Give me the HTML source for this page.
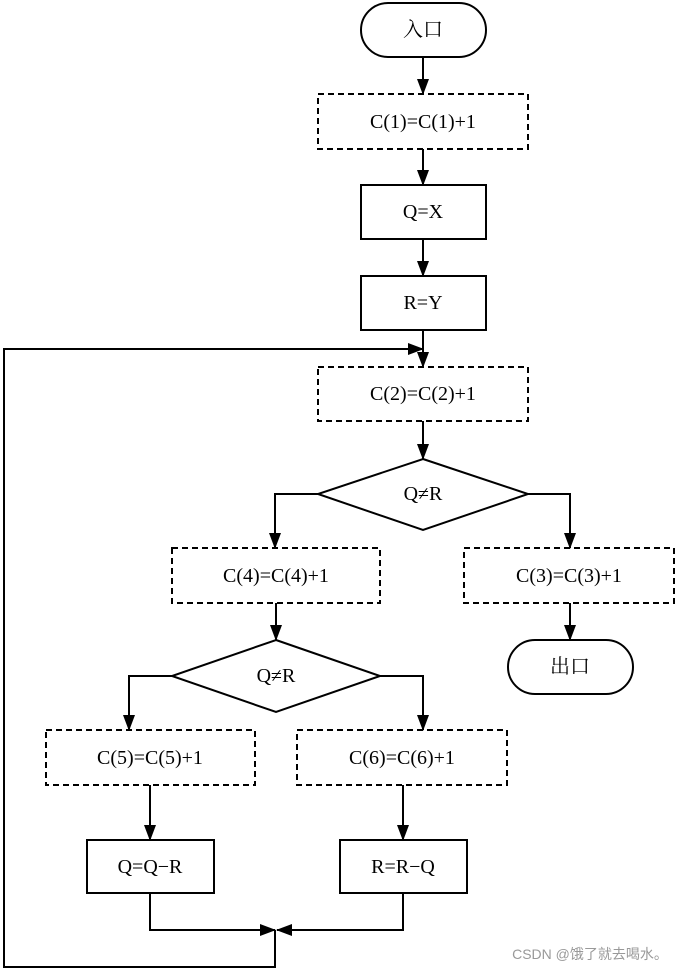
<!DOCTYPE html>
<html><head><meta charset="utf-8"><style>body{margin:0;background:#fff}svg{display:block}text{font-family:"Liberation Serif","Noto Serif CJK SC",serif;font-size:20px;text-anchor:middle;dominant-baseline:central;fill:#000}</style></head><body>
<svg width="686" height="972" viewBox="0 0 686 972">
<defs><marker id="a" markerWidth="10" markerHeight="10" refX="9" refY="5" orient="auto" markerUnits="userSpaceOnUse"><path d="M0,0 L10,5 L0,10 z" fill="#000"/></marker>
<marker id="b" markerWidth="16" markerHeight="12" refX="15" refY="6" orient="auto" markerUnits="userSpaceOnUse"><path d="M0,0 L16,6 L0,12 z" fill="#000"/></marker></defs>
<g stroke="#000" stroke-width="2" fill="none">
<rect x="361" y="3" width="125" height="54" rx="27"/>
<rect x="318" y="94" width="210" height="55" stroke-dasharray="6,4"/>
<rect x="361" y="185" width="125" height="54"/>
<rect x="361" y="276" width="125" height="54"/>
<rect x="318" y="367" width="210" height="54" stroke-dasharray="6,4"/>
<polygon points="423,459 528,494 423,530 318,494"/>
<rect x="172" y="548" width="208" height="55" stroke-dasharray="6,4"/>
<rect x="464" y="548" width="210" height="55" stroke-dasharray="6,4"/>
<rect x="508" y="640" width="125" height="54" rx="27"/>
<polygon points="276,640 380,676 276,712 172,676"/>
<rect x="46" y="730" width="209" height="55" stroke-dasharray="6,4"/>
<rect x="297" y="730" width="210" height="55" stroke-dasharray="6,4"/>
<rect x="87" y="840" width="127" height="53"/>
<rect x="340" y="840" width="127" height="53"/>
<g marker-end="url(#b)">
<line x1="423" y1="57" x2="423" y2="94"/>
<line x1="423" y1="149" x2="423" y2="185"/>
<line x1="423" y1="239" x2="423" y2="276"/>
<line x1="423" y1="330" x2="423" y2="367"/>
<line x1="423" y1="421" x2="423" y2="459"/>
<polyline points="318,494 275,494 275,548"/>
<polyline points="528,494 570,494 570,548"/>
<line x1="570" y1="603" x2="570" y2="640"/>
<line x1="276" y1="603" x2="276" y2="640"/>
<polyline points="172,676 129,676 129,730"/>
<polyline points="380,676 423,676 423,730"/>
<line x1="150" y1="785" x2="150" y2="840"/>
<line x1="403" y1="785" x2="403" y2="840"/>
<polyline points="150,893 150,930 275,930"/>
<polyline points="403,893 403,930 277,930"/>
<polyline points="275,930 275,967 4,967 4,349 423,349"/>
</g>
</g>
<text x="423" y="30">入口</text>
<text x="423" y="122">C(1)=C(1)+1</text>
<text x="423" y="212">Q=X</text>
<text x="423" y="303">R=Y</text>
<text x="423" y="394">C(2)=C(2)+1</text>
<text x="423" y="494">Q≠R</text>
<text x="276" y="576">C(4)=C(4)+1</text>
<text x="569" y="576">C(3)=C(3)+1</text>
<text x="570" y="667">出口</text>
<text x="276" y="676">Q≠R</text>
<text x="150" y="758">C(5)=C(5)+1</text>
<text x="402" y="758">C(6)=C(6)+1</text>
<text x="150" y="867">Q=Q−R</text>
<text x="403" y="867">R=R−Q</text>
<text x="590" y="954" style="font-family:'Liberation Sans','Noto Sans CJK SC',sans-serif;font-size:14px;fill:#999">CSDN @饿了就去喝水。</text>
</svg>
</body></html>
